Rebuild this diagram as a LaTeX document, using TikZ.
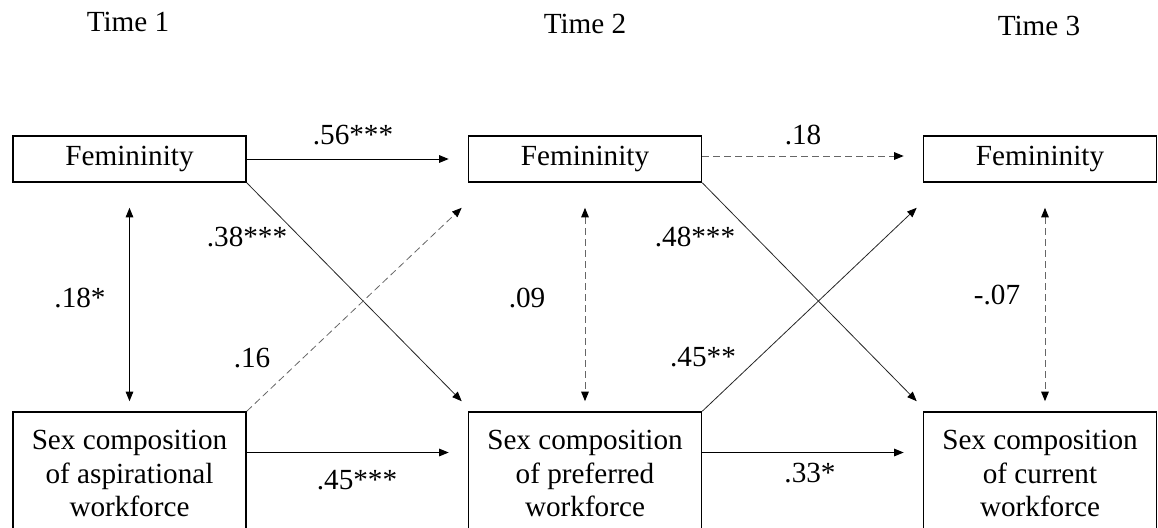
\documentclass[tikz,border=0pt]{standalone}
\usepackage{fontspec}
\setmainfont{Liberation Serif}
\usetikzlibrary{arrows.meta}
\begin{document}
\begin{tikzpicture}[x=0.5pt,y=-0.5pt,
  >={Triangle[length=4.8pt,width=3.8pt,color=black]},
  every node/.style={font=\fontsize{14.6}{16.8}\selectfont},
  box/.style={draw,line width=0.8pt,minimum width=116.5pt,inner sep=0pt,align=center},
  topbox/.style={box,minimum height=23pt},
  botbox/.style={box,minimum height=61.5pt},
  arr/.style={->,line width=0.5pt},
  diag/.style={->,line width=0.4pt,draw=black!85},
  darr/.style={->,line width=0.5pt,dash pattern=on 3.5pt off 2pt,draw=black!60},
  lbl/.style={inner sep=0pt},
]
\useasboundingbox (0,0) rectangle (1158,527);
\clip (0,0) rectangle (1158,527);

% time headings
\node[lbl] (t1) at (128,21.5) {Time 1};
\node[lbl] (t2) at (585,24) {Time 2};
\node[lbl] (t3) at (1039,26) {Time 3};

% boxes
\node[topbox] (f1) at (129.5,159) {Femininity};
\node[topbox] (f2) at (585,159) {Femininity};
\node[topbox] (f3) at (1040,159) {Femininity};
\node[botbox] (s1) at (129.5,473.5) {Sex composition\\of aspirational\\workforce};
\node[botbox] (s2) at (585,473.5) {Sex composition\\of preferred\\workforce};
\node[botbox] (s3) at (1040,473.5) {Sex composition\\of current\\workforce};

% horizontal paths
\draw[arr,shorten >=9.5pt] (f1) -- (f2);
\draw[darr,shorten >=9.5pt] ([yshift=1.5pt]f2.east) -- ([yshift=1.5pt]f3.west);
\draw[arr,shorten >=9.5pt] ([yshift=10.5pt]s1.east) -- ([yshift=10.5pt]s2.west);
\draw[arr,shorten >=9.5pt] ([yshift=10.5pt]s2.east) -- ([yshift=10.5pt]s3.west);

% correlations
\draw[arr,<->,shorten <=12.5pt,shorten >=5pt] (f1.south) -- (s1.north);
\draw[darr,<->,shorten <=12.5pt,shorten >=5pt] (f2.south) -- (s2.north);
\draw[darr,<->,shorten <=12.5pt,shorten >=5pt] ([xshift=2.5pt]f3.south) -- ([xshift=2.5pt]s3.north);

% cross-lagged paths
\draw[diag] (f1.south east) -- ([xshift=-3pt,yshift=5pt]s2.north west);
\draw[darr,line width=0.4pt] (s1.north east) -- ([xshift=-3pt,yshift=-12.5pt]f2.south west);
\draw[diag] (f2.south east) -- ([xshift=-3pt,yshift=5pt]s3.north west);
\draw[diag] (s2.north east) -- ([xshift=-3pt,yshift=-12.5pt]f3.south west);

% coefficients
\node[lbl] (c1) at (353,135) {.56***};
\node[lbl] (c2) at (247,237) {.38***};
\node[lbl] (c3) at (80,298) {.18*};
\node[lbl] (c4) at (252,358) {.16};
\node[lbl] (c5) at (357,480) {.45***};
\node[lbl] (c6) at (803,135) {.18};
\node[lbl] (c7) at (695,237) {.48***};
\node[lbl] (c8) at (527,298) {.09};
\node[lbl] (c9) at (703,357) {.45**};
\node[lbl] (c10) at (810,473) {.33*};
\node[lbl] (c11) at (997,295) {-.07};
\end{tikzpicture}
\end{document}
